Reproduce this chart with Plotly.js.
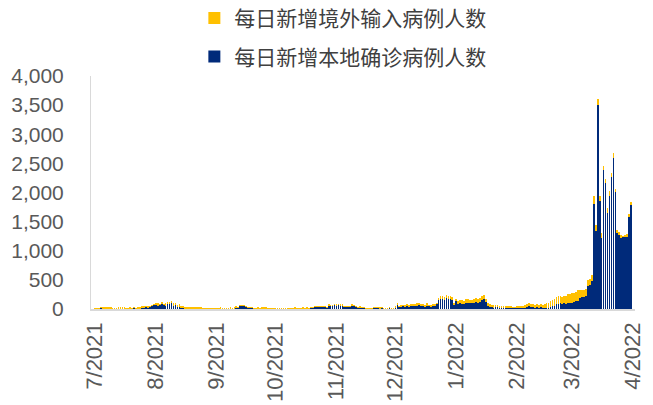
<!DOCTYPE html>
<html>
<head>
<meta charset="utf-8">
<script src="https://cdn.plot.ly/plotly-3.0.1.min.js"></script>
<style>html,body{margin:0;padding:0;background:#fff;}#chart{width:653px;height:405px;}</style>
</head>
<body>
<div id="chart"></div>
<script>
// Daily new cases, one value per day, starting 2021-07-01
const startDate = '2021-07-01';
// Local confirmed (本地确诊)
const localJul = [0,0,0,15,8,2,4,5,3,3,2,1,3,4,3,0,0,0,0,0,13,1,2,3,17,21,31,23,31,45,61];
const localAug = [75,55,71,80,62,53,94,81,108,49,61,31,42,19,20,8,5,4,2,2,0,0,0,0,0,0,0,0,0,0,0];
const localSep = [0,0,0,0,0,0,0,0,0,6,20,22,59,50,46,33,13,20,15,3,6,8,3,2,4,8,0,1,1,0];
const localOct = [0,0,0,0,0,0,0,0,0,0,0,0,0,0,0,0,6,4,13,11,28,32,26,39,29,34,23,59,54,48,62];
const localNov = [60,70,55,60,40,35,30,40,55,55,40,20,25,10,10,5,5,3,5,10,15,10,8,10,5,5,5,10,6,4];
const localDec = [20,70,30,40,45,40,50,40,60,60,50,60,70,55,50,40,60,45,40,50,50,80,150,180,180,160,190,180,180,160,70];
const localJan = [130,90,95,90,80,100,110,100,100,110,120,110,125,150,165,120,60,40,30,25,35,30,20,15,20,20,20,15,15,10,10];
const localFeb = [20,16,12,15,25,30,45,35,30,22,35,25,30,25,20,25,20,40,50,60,80,90,100,90,95,90,100,100];
const localMar = [110,120,130,140,190,210,200,230,400,420,480,1807,1337,3507,1860,1226,2388,2157,1656,1947,2270,2590,2005,1300,1270,1215,1230,1230,1240,1575,1785];
// Imported (境外输入)
const importJul = [20,18,22,25,20,24,30,28,26,22,20,19,26,30,33,28,24,21,26,25,18,22,26,32,30,24,23,30,27,20,33];
const importAug = [30,43,19,44,32,44,31,44,35,46,42,32,43,38,34,33,30,35,30,34,28,29,27,29,21,20,22,21,15,18,23];
const importSep = [22,20,30,19,17,24,22,26,15,24,25,20,18,22,20,23,21,19,16,21,14,23,22,27,27,23,19,22,20,18];
const importOct = [20,14,12,16,18,15,25,24,15,20,26,18,22,25,29,20,24,20,21,24,18,20,20,18,30,17,14,23,19,21,24];
const importNov = [25,20,25,20,20,18,16,20,28,20,15,20,20,16,18,15,20,17,18,20,20,20,18,20,18,18,17,20,16,20];
const importDec = [25,30,20,25,30,25,30,35,30,25,30,35,30,28,30,30,35,30,35,40,35,30,40,40,45,40,45,40,35,50,40];
const importJan = [45,40,60,70,60,70,60,55,60,70,75,70,65,70,70,60,50,40,35,40,30,35,30,40,35,30,35,40,35,30,30];
const importFeb = [30,35,40,45,40,50,60,55,60,50,45,50,55,50,60,70,80,100,100,120,120,130,120,120,130,140,150,160];
const importMar = [170,160,170,180,130,120,130,110,90,100,110,131,100,95,86,84,67,70,78,79,58,86,50,56,57,55,30,40,50,56,52];

const tickVals = ['2021-07-01','2021-08-01','2021-09-01','2021-10-01','2021-11-01','2021-12-01','2022-01-01','2022-02-01','2022-03-01','2022-04-01'];
const tickText = ['7/2021','8/2021','9/2021','10/2021','11/2021','12/2021','1/2022','2/2022','3/2022','4/2022'];
const seriesNames = ['每日新增本地确诊病例人数','每日新增境外输入病例人数'];

const localAll = [].concat(localJul,localAug,localSep,localOct,localNov,localDec,localJan,localFeb,localMar);
const importAll = [].concat(importJul,importAug,importSep,importOct,importNov,importDec,importJan,importFeb,importMar);

const dates = [];
const d0 = new Date(startDate + 'T00:00:00Z');
for (let i = 0; i < localAll.length; i++) {
  const d = new Date(d0.getTime() + i*86400000);
  dates.push(d.toISOString().slice(0,10));
}

const traces = [
  {type:'bar', x:dates, y:localAll, name:seriesNames[0], legendgroup:'a', legendrank:2,
   marker:{color:'#002A7A', line:{width:0}}},
  {type:'bar', x:dates, y:importAll, name:seriesNames[1], legendgroup:'b', legendrank:1,
   marker:{color:'#FFC000', line:{width:0}}}
];

const layout = {
  width:653, height:405,
  margin:{l:91, r:18, t:76, b:96, pad:0, autoexpand:false},
  barmode:'stack', bargap:0.12,
  paper_bgcolor:'#fff', plot_bgcolor:'#fff',
  font:{family:'Liberation Sans, Arial, sans-serif', color:'#595959'},
  showlegend:true,
  legend:{x:0.19, xanchor:'left', y:1.335, yanchor:'top', orientation:'v',
          traceorder:'grouped', tracegroupgap:8,
          font:{family:'Noto Sans CJK SC, sans-serif', size:21, color:'#404040'},
          bgcolor:'rgba(0,0,0,0)'},
  xaxis:{type:'date', range:['2021-06-29','2022-04-02'], tickvals:tickVals, ticktext:tickText,
         tickangle:-89.9, tickfont:{size:22, color:'#595959'}, showgrid:false, zeroline:false,
         showline:true, linecolor:'#D9D9D9', linewidth:2, ticks:'', ticklabelstandoff:-4, ticklabelshift:-4},
  yaxis:{range:[0,4000], dtick:500, tickformat:',d', tickfont:{size:21, color:'#595959'},
         showgrid:false, zeroline:false, showline:true, linecolor:'#D9D9D9', linewidth:1,
         ticks:'', ticklabelstandoff:22}
};

Plotly.newPlot('chart', traces, layout, {displayModeBar:false, staticPlot:true});
</script>
</body>
</html>
